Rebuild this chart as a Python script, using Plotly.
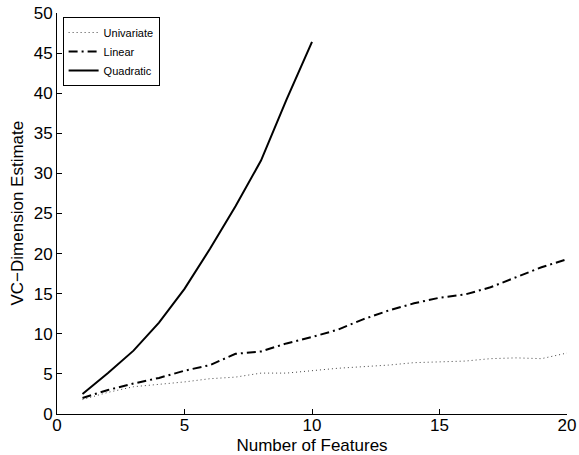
import plotly.graph_objects as go

features = list(range(1, 21))
univariate = [1.8, 2.7, 3.4, 3.7, 4.0, 4.4, 4.6, 5.1, 5.1, 5.4,
              5.7, 5.9, 6.1, 6.4, 6.5, 6.6, 6.9, 7.0, 6.9, 7.6]
linear = [2.0, 3.0, 3.8, 4.5, 5.4, 6.1, 7.5, 7.8, 8.8, 9.6,
          10.5, 11.8, 12.9, 13.8, 14.5, 14.9, 15.8, 17.1, 18.3, 19.3]
quad_features = list(range(1, 11))
quadratic = [2.5, 5.1, 7.9, 11.4, 15.6, 20.6, 25.9, 31.6, 39.2, 46.4]

x_ticks = [0, 5, 10, 15, 20]
y_ticks = [0, 5, 10, 15, 20, 25, 30, 35, 40, 45, 50]

fig = go.Figure()
fig.add_trace(go.Scatter(x=features, y=univariate, mode="lines", name="Univariate",
                         line=dict(color="#444444", width=1, dash="1px,3px")))
fig.add_trace(go.Scatter(x=features, y=linear, mode="lines", name="Linear",
                         line=dict(color="black", width=2, dash="9px,4px,2px,4px")))
fig.add_trace(go.Scatter(x=quad_features, y=quadratic, mode="lines", name="Quadratic",
                         line=dict(color="black", width=2)))

font = "Liberation Sans, Arial, Helvetica, sans-serif"
fig.update_layout(
    width=579, height=455,
    margin=dict(l=57, r=12, t=13, b=41),
    paper_bgcolor="white", plot_bgcolor="white",
    font=dict(family=font, size=16, color="black"),
    showlegend=True,
    legend=dict(x=0.011, y=0.99, xanchor="left", yanchor="top",
                bgcolor="white", bordercolor="black", borderwidth=1,
                font=dict(size=11, family=font), tracegroupgap=0,
                itemwidth=30),
    xaxis=dict(range=[0, 20], tickvals=x_ticks, ticks="inside", ticklen=5,
               tickcolor="black", showline=True, linecolor="black", linewidth=1,
               showgrid=False, zeroline=False, mirror=False, automargin=False,
               tickfont=dict(size=17), ticklabelstandoff=-4,
               title=dict(text="Number of Features", font=dict(size=17))),
    yaxis=dict(range=[0, 50], tickvals=y_ticks, ticks="inside", ticklen=5,
               tickcolor="black", showline=True, linecolor="black", linewidth=1,
               showgrid=False, zeroline=False, mirror=False, automargin=False,
               tickfont=dict(size=17)),
    annotations=[dict(text="VC\u2212Dimension Estimate", xref="paper", yref="paper",
                      x=0, y=0.5, xanchor="center", yanchor="middle",
                      xshift=-40, textangle=-90, showarrow=False,
                      font=dict(size=17, family=font, color="black"))],
)

fig.write_html("out.html", config={"displayModeBar": False},
               post_script="document.body.style.margin='0';document.body.style.overflow='hidden';")
